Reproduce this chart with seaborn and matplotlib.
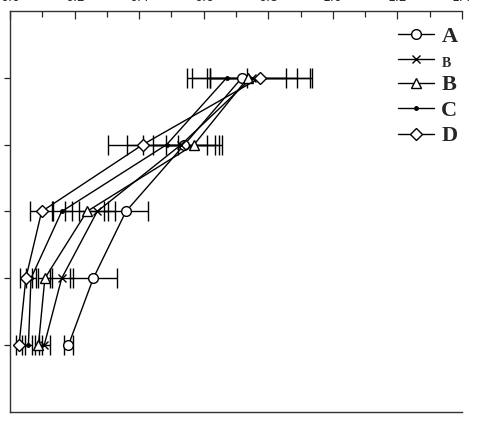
import numpy as np
import pandas as pd
import seaborn as sns
import matplotlib
matplotlib.use("Agg")
import matplotlib.pyplot as plt
from matplotlib.lines import Line2D
from matplotlib.ticker import MultipleLocator

# data
levels = [1, 2, 3, 4, 5]
series_labels = ["A", "B", "B", "C", "D"]
a_vals = [0.181, 0.258, 0.359, 0.540, 0.718]
a_err = [0.014, 0.072, 0.069, 0.096, 0.170]
b_vals = [0.106, 0.160, 0.270, 0.530, 0.749]
b_err = [0.017, 0.036, 0.055, 0.118, 0.186]
b2_vals = [0.088, 0.108, 0.238, 0.570, 0.737]
b2_err = [0.012, 0.022, 0.067, 0.086, 0.118]
c_vals = [0.057, 0.065, 0.160, 0.485, 0.671]
c_err = [0.011, 0.015, 0.031, 0.124, 0.062]
d_vals = [0.028, 0.049, 0.098, 0.411, 0.774]
d_err = [0.008, 0.018, 0.036, 0.108, 0.155]
x_ticks = [0.0, 0.2, 0.4, 0.6, 0.8, 1.0, 1.2, 1.4]
x_tick_labels = ["0.0", "0.2", "0.4", "0.6", "0.8", "1.0", "1.2", "1.4"]

sns.set_style("ticks")
plt.rcParams['font.family'] = ['DejaVu Sans']

fig = plt.figure(figsize=(4.82, 4.37), dpi=100)
ax = fig.add_axes([10/482, 25/437, 452/482, 401/437])

vals = [a_vals, b_vals, b2_vals, c_vals, d_vals]
errs = [a_err, b_err, b2_err, c_err, d_err]
styles = [
    dict(marker="o", ms=7, mfc="white"),
    dict(marker="x", ms=6, mfc="black"),
    dict(marker="^", ms=7, mfc="white"),
    dict(marker=".", ms=5, mfc="black"),
    dict(marker="D", ms=6.5, mfc="white"),
]

for v, e in zip(vals, errs):
    ax.errorbar(v, levels, xerr=e, fmt="none", ecolor="black", elinewidth=1.0,
                capsize=7, capthick=1.0, zorder=2)

for i, (v, st) in enumerate(zip(vals, styles)):
    df = pd.DataFrame({"x": v, "y": levels})
    sns.lineplot(data=df, x="x", y="y", orient="y", estimator=None, ax=ax,
                 color="black", lw=1.0, marker=st["marker"], markersize=st["ms"],
                 markerfacecolor=st["mfc"], markeredgecolor="black",
                 markeredgewidth=1.0, legend=False, zorder=3 + i)

ax.set_xlim(0, 1.4)
ax.set_ylim(0, 6)
ax.set_xlabel("")
ax.set_ylabel("")
ax.xaxis.tick_top()
ax.set_xticks(x_ticks)
ax.set_xticklabels(x_tick_labels, fontsize=9)
ax.xaxis.set_minor_locator(MultipleLocator(0.1))
ax.tick_params(axis="x", which="major", direction="in", length=6, width=0.9,
               pad=5, top=True, bottom=False, labeltop=True, labelbottom=False)
ax.tick_params(axis="x", which="minor", direction="in", length=4, width=0.9,
               top=True, bottom=False)
ax.set_yticks(levels)
ax.set_yticklabels([])
ax.tick_params(axis="y", direction="out", length=4, width=0.9, right=False)
for s in ["top", "left", "bottom"]:
    ax.spines[s].set_visible(True)
    ax.spines[s].set_color("#333333")
    ax.spines[s].set_linewidth(1.0)
ax.spines["right"].set_visible(False)

handles = [Line2D([], [], color="black", lw=1.0, marker=st["marker"],
                  markersize=st["ms"], markerfacecolor=st["mfc"],
                  markeredgecolor="black", markeredgewidth=1.0) for st in styles]
leg = fig.legend(handles, series_labels, loc="upper left",
                 bbox_to_anchor=(398/482, 1 - 26/437), bbox_transform=fig.transFigure,
                 frameon=False, handlelength=1.6, handletextpad=0.35,
                 labelspacing=0.22, borderpad=0, borderaxespad=0,
                 prop={"family": "Liberation Serif", "weight": "bold", "size": 16})
for i, t in enumerate(leg.get_texts()):
    if i == 1:
        t.set_fontsize(10)

fig.savefig("out.png", dpi=100)
